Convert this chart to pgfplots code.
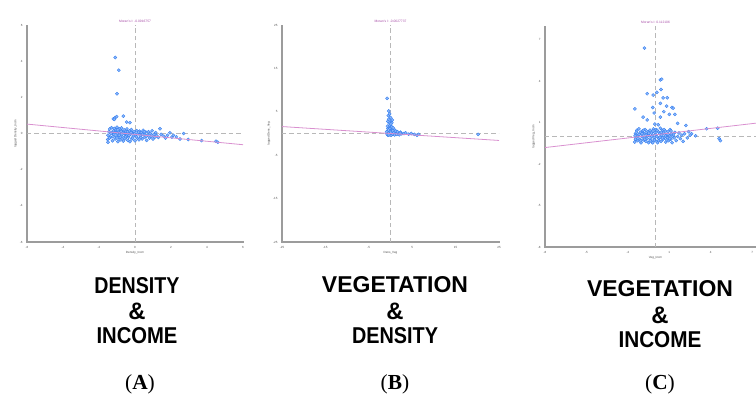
\documentclass[border=0pt]{standalone}
\usepackage{graphicx}
\usepackage{pgfplots}
\pgfplotsset{compat=1.18}
\usepackage{fontspec}
\setmainfont{Liberation Sans}
\newfontfamily\capserif{Liberation Serif}

\definecolor{ptblue}{HTML}{2F7CF2}
\definecolor{axgray}{HTML}{9C9C9C}
\definecolor{dashgray}{HTML}{B8B8B8}
\definecolor{regpink}{HTML}{D990CF}
\definecolor{titmag}{HTML}{A64CA6}

\pgfplotsset{
  moran/.style={
    scale only axis,
    axis lines=left,
    axis line style={axgray, line width=1.2pt, -},
    tick style={axgray, line width=0.5pt},
    major tick length=2pt,
    tick align=center,
    /pgf/number format/assume math mode=true,
    ticklabel style={font=\fontsize{3}{3}\selectfont, text=black!70},
    xlabel style={font=\fontsize{3}{3}\selectfont, text=black!70, yshift=4bp},
    ylabel style={font=\fontsize{3}{3}\selectfont, text=black!70, yshift=-4bp},
    title style={font=\fontsize{3.3}{3.3}\selectfont, text=titmag, yshift=-7bp},
    clip mode=individual,
  },
  pts/.style={only marks, mark=*, mark size=1.6pt,
    mark options={draw=ptblue, fill=ptblue!55, line width=0.35pt}},
  reg/.style={regpink, line width=0.8pt},
  ref/.style={dashgray, line width=0.9pt, dash pattern=on 4.5pt off 3pt},
}

\pgfplotstableread{
x y
-1.1 4.2
-0.9 3.5
-1.0 2.2
-1.11 0.87
-1.02 0.93
-1.2 0.81
-1.15 0.78
-0.65 0.96
-0.46 0.63
-0.28 0.6
-1.5 -0.1
-1.52 -0.33
-1.5 -0.48
-1.45 0.1
-1.4 0.25
-1.35 -0.2
-1.3 0.32
-1.28 0.05
-1.25 -0.4
-1.2 0.15
-1.18 -0.05
-1.15 0.28
-1.1 -0.3
-1.08 0.1
-1.05 0.2
-1.02 -0.15
-1.0 0.35
-0.98 0.0
-0.95 -0.45
-0.92 0.12
-0.9 -0.22
-0.88 0.25
-0.85 0.05
-0.82 -0.35
-0.8 0.18
-0.78 -0.08
-0.75 0.3
-0.7 -0.18
-0.68 0.08
-0.65 -0.42
-0.6 0.2
-0.58 -0.02
-0.55 -0.28
-0.5 0.12
-0.48 -0.12
-0.45 0.25
-0.4 -0.38
-0.38 0.02
-0.35 -0.2
-0.3 0.15
-0.28 -0.45
-0.25 -0.05
-0.2 0.22
-0.18 -0.3
-0.15 0.05
-0.1 -0.15
-0.05 0.1
0.0 -0.4
0.05 -0.08
0.1 0.15
0.12 -0.25
0.18 0.0
0.22 -0.35
0.25 0.12
0.3 -0.12
0.35 0.05
0.4 -0.3
0.45 0.18
0.5 -0.05
0.55 -0.2
0.6 0.08
0.65 -0.38
0.7 -0.1
0.75 0.1
0.8 -0.25
0.85 0.0
0.9 -0.15
0.95 0.15
1.0 -0.3
1.05 -0.05
1.1 -0.2
1.15 0.05
1.2 -0.12
1.3 -0.22
1.39 0.26
1.45 -0.05
1.6 -0.15
1.7 -0.25
1.8 -0.1
1.94 0.04
2.05 -0.2
2.13 -0.1
2.3 -0.18
2.5 -0.3
2.7 0.0
2.96 -0.33
3.7 -0.39
4.5 -0.43
4.6 -0.48
-1.42 -0.25
-1.33 0.0
-1.22 -0.18
-1.12 0.05
-1.0 -0.25
-0.95 0.2
-0.87 -0.1
-0.77 0.12
-0.72 -0.3
-0.62 0.0
-0.52 -0.18
-0.42 0.1
-0.33 -0.1
-0.22 0.05
-0.12 -0.25
-0.02 0.0
0.08 -0.18
0.2 0.08
0.32 -0.22
0.42 -0.05
0.52 0.1
0.62 -0.15
}\densinc

\pgfplotstableread{
x y
-0.77 8.1
-0.4 5.2
-0.5 4.1
-0.4 3.3
0.0 3.7
0.2 2.9
-0.3 2.4
-0.1 1.9
0.2 1.6
0.3 2.5
-0.6 2.8
0.4 3.1
-0.2 4.5
0.1 2.2
-0.8 0.0
-0.7 0.6
-0.6 1.2
-0.5 -0.3
-0.4 0.3
-0.3 0.9
-0.2 -0.1
-0.1 0.5
0.0 1.3
0.1 0.1
0.2 0.7
0.3 -0.3
0.4 0.4
0.5 1.0
0.6 0.0
0.7 0.6
0.8 -0.2
0.9 0.3
1.0 0.8
1.1 -0.1
1.2 0.4
1.3 0.1
1.5 0.2
1.7 -0.1
1.9 0.08
2.3 0.3
2.6 -0.05
3.1 0.0
3.5 0.15
4.2 -0.15
4.8 0.0
5.5 -0.2
6.1 -0.4
6.5 -0.2
20.2 -0.2
-0.6 -0.4
-0.2 1.1
0.3 1.5
-0.7 1.7
0.6 1.3
-0.85 0.4
-0.75 -0.2
-0.45 0.8
-0.35 -0.35
0.05 0.3
0.15 -0.4
0.45 -0.1
0.55 0.6
0.75 0.2
0.95 -0.3
1.15 0.5
1.4 -0.2
1.6 0.4
2.0 -0.3
2.2 0.1
}\vegdens

\pgfplotstableread{
x y
-0.8 6.4
0.35 4.1
0.45 4.15
-0.6 3.1
-0.17 3.0
0.4 3.4
0.1 3.2
0.55 2.8
0.85 2.8
0.35 2.4
0.8 2.2
1.2 2.1
1.28 2.05
-1.5 2.0
-0.2 2.1
-0.1 1.7
0.6 1.8
1.0 1.6
1.4 1.6
-0.9 1.4
-0.6 1.2
1.6 0.95
2.2 0.8
0.35 1.4
-0.05 0.9
0.2 0.85
3.7 0.56
4.5 0.6
4.6 -0.15
4.7 -0.3
2.6 0.2
2.5 0.1
2.9 0.05
-1.5 -0.4
-1.45 0.2
-1.4 -0.1
-1.35 0.45
-1.3 -0.3
-1.25 0.1
-1.2 0.55
-1.15 -0.2
-1.1 0.3
-1.05 -0.45
-1.0 0.0
-0.95 0.4
-0.9 -0.25
-0.85 0.2
-0.8 -0.05
-0.75 0.5
-0.7 -0.35
-0.65 0.15
-0.6 -0.15
-0.55 0.35
-0.5 -0.45
-0.45 0.05
-0.4 0.45
-0.35 -0.2
-0.3 0.25
-0.25 -0.4
-0.2 0.1
-0.15 0.55
-0.1 -0.1
-0.05 0.3
0.0 -0.3
0.05 0.5
0.1 0.0
0.15 -0.45
0.2 0.35
0.25 -0.15
0.3 0.2
0.35 0.6
0.4 -0.35
0.45 0.1
0.5 0.45
0.55 -0.2
0.6 0.25
0.65 -0.05
0.7 0.4
0.75 -0.4
0.8 0.15
0.85 -0.1
0.9 0.35
0.95 -0.3
1.0 0.05
1.05 0.5
1.1 -0.2
1.15 0.2
1.2 -0.45
1.3 0.1
1.35 -0.1
1.4 0.3
1.5 -0.3
1.6 0.0
1.7 0.25
1.8 -0.15
1.9 0.1
2.0 -0.35
2.1 0.2
2.3 -0.1
2.4 0.35
-1.48 0.05
-1.38 0.3
-1.28 -0.15
-1.18 0.15
-1.08 -0.3
-0.98 0.2
-0.88 0.45
-0.78 -0.2
-0.68 0.3
-0.58 0.05
-0.48 0.25
-0.38 -0.3
-0.28 0.0
-0.18 0.4
-0.08 -0.25
0.02 0.15
0.12 0.45
0.22 -0.3
0.32 -0.05
0.42 0.3
0.52 -0.1
0.62 0.5
0.72 0.05
0.82 -0.25
0.92 0.15
1.02 -0.15
1.12 0.4
1.22 0.0
-1.45 -0.2
-0.2 -0.45
}\veginc

\begin{document}
\begin{tikzpicture}
\useasboundingbox (0,0) rectangle (756bp,-414bp);

% (A) density & income
\begin{axis}[moran, at={(27bp,-242bp)}, anchor=south west,
  width=216bp, height=217bp,
  xmin=-6, xmax=6, ymin=-6, ymax=6,
  xtick={-6,-4,...,6}, ytick={-6,-4,...,6},
  title={Moran's I: -0.0916757},
  xlabel={Density\_Incm}, ylabel={lagged Density\_Incm}]
  \addplot[ref] coordinates {(0,-6) (0,6)};
  \addplot[ref] coordinates {(-6,0) (6,0)};
  \addplot[pts] table {\densinc};
  \addplot[reg] coordinates {(-6,0.52) (6,-0.62)};
\end{axis}

% (B) vegetation & density
\begin{axis}[moran, at={(282bp,-242bp)}, anchor=south west,
  width=217bp, height=217bp,
  xmin=-25, xmax=25, ymin=-25, ymax=25,
  xtick={-25,-15,...,25}, ytick={-25,-15,...,25},
  title={Moran's I: -0.0627737},
  xlabel={Dens\_Veg}, ylabel={lagged Dens\_Veg}]
  \addplot[ref] coordinates {(0,-25) (0,25)};
  \addplot[ref] coordinates {(-25,0) (25,0)};
  \addplot[pts] table {\vegdens};
  \addplot[reg] coordinates {(-25,1.6) (25,-1.6)};
\end{axis}

% (C) vegetation & income
\begin{axis}[moran, at={(545bp,-247bp)}, anchor=south west,
  width=221bp, height=221bp,
  xmin=-8, xmax=8, ymin=-8, ymax=8,
  xtick={-8,-5,...,7}, ytick={-8,-5,...,7},
  title={Moran's I: 0.112106},
  xlabel={Veg\_Incm}, ylabel={lagged Veg\_Incm}]
  \addplot[ref] coordinates {(0,-8) (0,8)};
  \addplot[ref] coordinates {(-8,0) (8,0)};
  \addplot[pts] table {\veginc};
  \addplot[reg] coordinates {(-8,-0.8) (8,1.05)};
\end{axis}

\tikzset{big/.style={font=\bfseries, inner sep=0pt}}
\newcommand\word[2]{\resizebox{#1}{16bp}{#2}}
\node[big] at (137bp,-286bp) {\word{85bp}{DENSITY}};
\node[big] at (137bp,-311bp) {\resizebox{!}{16.5bp}{\&}};
\node[big] at (137bp,-336bp) {\word{81bp}{INCOME}};
\node[big] at (395bp,-285bp) {\word{146bp}{VEGETATION}};
\node[big] at (395bp,-311bp) {\resizebox{!}{16.5bp}{\&}};
\node[big] at (395bp,-336bp) {\word{86bp}{DENSITY}};
\node[big] at (660bp,-289bp) {\word{146bp}{VEGETATION}};
\node[big] at (660bp,-315bp) {\resizebox{!}{16.5bp}{\&}};
\node[big] at (660bp,-340bp) {\word{83bp}{INCOME}};

\tikzset{pan/.style={font=\capserif\fontsize{21.5}{21.5}\selectfont, inner sep=0pt}}
\node[pan] at (140bp,-384bp) {(\textbf{A})};
\node[pan] at (395bp,-384bp) {(\textbf{B})};
\node[pan] at (660bp,-384bp) {(\textbf{C})};
\end{tikzpicture}
\end{document}
